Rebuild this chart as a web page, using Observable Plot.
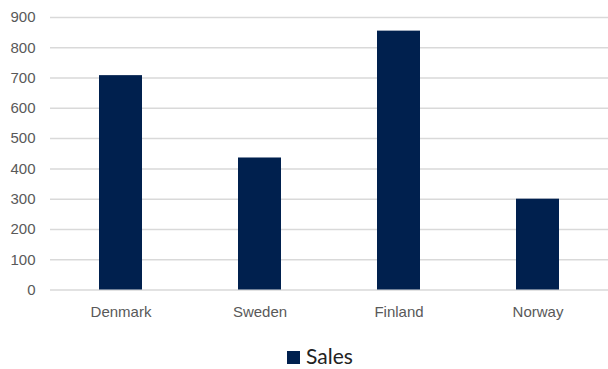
<!DOCTYPE html>
<html>
<head>
<meta charset="utf-8">
<script src="https://cdn.jsdelivr.net/npm/d3@7"></script>
<script src="https://cdn.jsdelivr.net/npm/@observablehq/plot@0.6"></script>
<style>
  html, body { margin: 0; padding: 0; background: #fff; }
  #chart { width: 608px; height: 369px; position: relative; overflow: hidden; }
  .legend { position: absolute; left: 0; top: 330px; width: 608px; height: 39px; font-family: Lato, "Open Sans", sans-serif; font-size: 21px; color: #222; }
  .legend .sw { position: absolute; left: 287px; top: 21px; width: 13px; height: 13px; background: #00204E; }
  .legend .lb { position: absolute; left: 306px; top: 14px; line-height: 24px; }
</style>
</head>
<body>
<div id="chart"></div>
<script>
const categories = ["Denmark", "Sweden", "Finland", "Norway"];
const sales = [708, 436, 855, 300];
const yTicks = [0, 100, 200, 300, 400, 500, 600, 700, 800, 900];
const seriesName = "Sales";

const data = categories.map((c, i) => ({category: c, value: sales[i]}));

const plot = Plot.plot({
  width: 608,
  height: 330,
  marginLeft: 50,
  marginRight: 0,
  marginTop: 17,
  marginBottom: 40.5,
  style: {fontFamily: "'Liberation Sans', Arial, sans-serif", fontSize: "15px", color: "#595959", background: "#fff"},
  x: {domain: categories, paddingInner: 0.69, paddingOuter: 0.345, label: null, tickSize: 0, tickPadding: 16},
  y: {domain: [0, 900], ticks: yTicks, label: null, tickSize: 0, tickPadding: 15},
  marks: [
    Plot.gridY(yTicks, {stroke: "#d9d9d9", strokeOpacity: 1, strokeWidth: 1.5}),
    Plot.barY(data, {x: "category", y: "value", fill: "#00204E"})
  ]
});
const chart = document.getElementById("chart");
chart.appendChild(plot);
const legend = document.createElement("div");
legend.className = "legend";
legend.innerHTML = `<span class="sw"></span><span class="lb">${seriesName}</span>`;
chart.appendChild(legend);
</script>
</body>
</html>
